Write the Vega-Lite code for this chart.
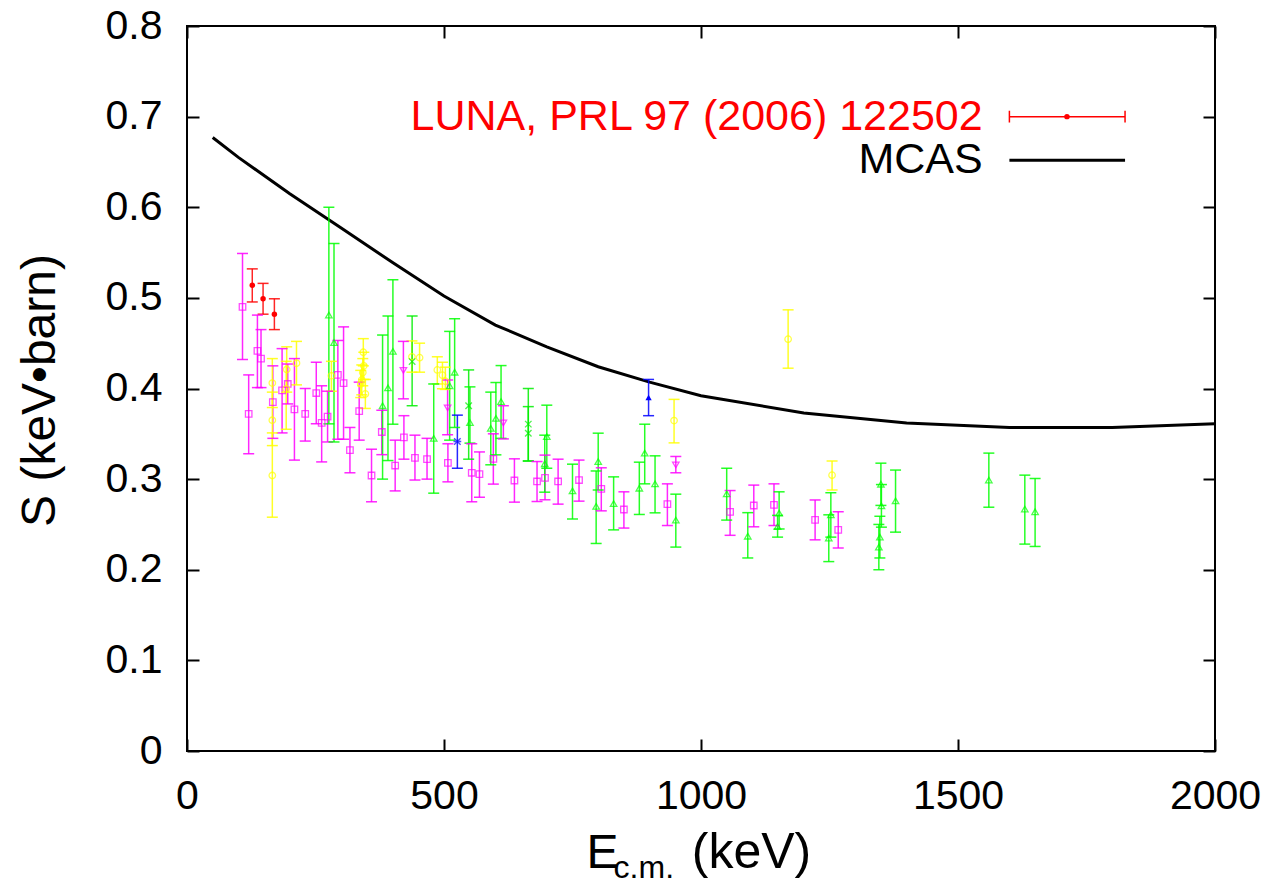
{
  "$schema": "https://vega.github.io/schema/vega-lite/v6.json",
  "width": 1028,
  "height": 725,
  "autosize": {"type": "none"},
  "padding": {"left": 187, "top": 26, "right": 52, "bottom": 137},
  "background": "white",
  "config": {
    "view": {"stroke": "black", "strokeWidth": 2},
    "font": "Liberation Sans",
    "scale": {"continuousPadding": 0},
    "axis": {
      "domain": false, "grid": false, "ticks": true, "tickSize": -12, "tickColor": "black", "tickWidth": 2,
      "labelFont": "Liberation Sans", "labelFontSize": 41, "labelColor": "black", "labelPadding": 37, "labelFlush": false,
      "titleFont": "Liberation Sans", "titleFontSize": 48, "titleFontWeight": "normal", "titleColor": "black"
    }
  },
  "datasets": {
    "mcas": [
      {"E": 50, "S": 0.677}, {"E": 100, "S": 0.655}, {"E": 200, "S": 0.615}, {"E": 300, "S": 0.577},
      {"E": 400, "S": 0.539}, {"E": 500, "S": 0.502}, {"E": 600, "S": 0.470}, {"E": 700, "S": 0.446},
      {"E": 800, "S": 0.424}, {"E": 900, "S": 0.407}, {"E": 1000, "S": 0.392}, {"E": 1200, "S": 0.373},
      {"E": 1400, "S": 0.362}, {"E": 1600, "S": 0.357}, {"E": 1800, "S": 0.357}, {"E": 2000, "S": 0.361}
    ],
    "pts": [
      {"set": "A", "E": 108, "S": 0.490, "lo": 0.432, "hi": 0.549},
      {"set": "A", "E": 120, "S": 0.372, "lo": 0.328, "hi": 0.415},
      {"set": "A", "E": 137, "S": 0.4415, "lo": 0.401, "hi": 0.481},
      {"set": "A", "E": 144, "S": 0.433, "lo": 0.401, "hi": 0.465},
      {"set": "A", "E": 167, "S": 0.385, "lo": 0.345, "hi": 0.425},
      {"set": "A", "E": 185, "S": 0.398, "lo": 0.351, "hi": 0.444},
      {"set": "A", "E": 196, "S": 0.405, "lo": 0.383, "hi": 0.427},
      {"set": "A", "E": 209, "S": 0.377, "lo": 0.321, "hi": 0.433},
      {"set": "A", "E": 230, "S": 0.372, "lo": 0.342, "hi": 0.400},
      {"set": "A", "E": 251.5, "S": 0.395, "lo": 0.361, "hi": 0.429},
      {"set": "A", "E": 262, "S": 0.362, "lo": 0.319, "hi": 0.403},
      {"set": "A", "E": 273.5, "S": 0.369, "lo": 0.341, "hi": 0.397},
      {"set": "A", "E": 293.5, "S": 0.415, "lo": 0.344, "hi": 0.453},
      {"set": "A", "E": 304.6, "S": 0.406, "lo": 0.344, "hi": 0.468},
      {"set": "A", "E": 317, "S": 0.332, "lo": 0.307, "hi": 0.357},
      {"set": "A", "E": 335, "S": 0.375, "lo": 0.343, "hi": 0.407},
      {"set": "A", "E": 359, "S": 0.304, "lo": 0.275, "hi": 0.333},
      {"set": "A", "E": 379, "S": 0.352, "lo": 0.327, "hi": 0.376},
      {"set": "A", "E": 405, "S": 0.315, "lo": 0.287, "hi": 0.343},
      {"set": "A", "E": 422, "S": 0.346, "lo": 0.322, "hi": 0.370},
      {"set": "A", "E": 443.5, "S": 0.3235, "lo": 0.299, "hi": 0.3485},
      {"set": "A", "E": 467, "S": 0.322, "lo": 0.300, "hi": 0.345},
      {"set": "A", "E": 507.6, "S": 0.318, "lo": 0.297, "hi": 0.339},
      {"set": "A", "E": 554, "S": 0.307, "lo": 0.275, "hi": 0.339},
      {"set": "A", "E": 569, "S": 0.3055, "lo": 0.280, "hi": 0.330},
      {"set": "A", "E": 596, "S": 0.3224, "lo": 0.2945, "hi": 0.350},
      {"set": "A", "E": 637, "S": 0.2985, "lo": 0.2746, "hi": 0.3224},
      {"set": "A", "E": 681, "S": 0.2974, "lo": 0.2753, "hi": 0.3194},
      {"set": "A", "E": 696.5, "S": 0.3014, "lo": 0.2772, "hi": 0.3265},
      {"set": "A", "E": 722, "S": 0.2974, "lo": 0.2724, "hi": 0.322},
      {"set": "A", "E": 762.7, "S": 0.299, "lo": 0.2757, "hi": 0.321},
      {"set": "A", "E": 806, "S": 0.2893, "lo": 0.265, "hi": 0.3125},
      {"set": "A", "E": 850, "S": 0.2665, "lo": 0.246, "hi": 0.286},
      {"set": "A", "E": 934.6, "S": 0.2724, "lo": 0.2488, "hi": 0.2948},
      {"set": "A", "E": 1056.6, "S": 0.2639, "lo": 0.238, "hi": 0.2874},
      {"set": "A", "E": 1102.7, "S": 0.2709, "lo": 0.2474, "hi": 0.2934},
      {"set": "A", "E": 1142, "S": 0.2716, "lo": 0.2488, "hi": 0.2948},
      {"set": "A", "E": 1222, "S": 0.255, "lo": 0.233, "hi": 0.277},
      {"set": "A", "E": 1267, "S": 0.244, "lo": 0.224, "hi": 0.264},
      {"set": "B", "E": 166, "S": 0.406, "lo": 0.379, "hi": 0.433},
      {"set": "B", "E": 166, "S": 0.365, "lo": 0.337, "hi": 0.396},
      {"set": "B", "E": 166, "S": 0.304, "lo": 0.258, "hi": 0.351},
      {"set": "B", "E": 194, "S": 0.421, "lo": 0.396, "hi": 0.446},
      {"set": "B", "E": 193, "S": 0.3996, "lo": 0.355, "hi": 0.43},
      {"set": "B", "E": 213, "S": 0.428, "lo": 0.404, "hi": 0.452},
      {"set": "B", "E": 281, "S": 0.414, "lo": 0.397, "hi": 0.43},
      {"set": "B", "E": 343, "S": 0.440, "lo": 0.425, "hi": 0.455},
      {"set": "B", "E": 344, "S": 0.425, "lo": 0.41, "hi": 0.44},
      {"set": "B", "E": 342, "S": 0.4176, "lo": 0.403, "hi": 0.433},
      {"set": "B", "E": 340, "S": 0.4095, "lo": 0.393, "hi": 0.426},
      {"set": "B", "E": 338, "S": 0.405, "lo": 0.39, "hi": 0.42},
      {"set": "B", "E": 347, "S": 0.394, "lo": 0.378, "hi": 0.41},
      {"set": "B", "E": 437.6, "S": 0.435, "lo": 0.418, "hi": 0.4525},
      {"set": "B", "E": 452.5, "S": 0.434, "lo": 0.418, "hi": 0.450},
      {"set": "B", "E": 487, "S": 0.4205, "lo": 0.405, "hi": 0.435},
      {"set": "B", "E": 497, "S": 0.4147, "lo": 0.3996, "hi": 0.429},
      {"set": "B", "E": 502.6, "S": 0.408, "lo": 0.399, "hi": 0.4235},
      {"set": "B", "E": 947.6, "S": 0.3646, "lo": 0.340, "hi": 0.388},
      {"set": "B", "E": 1169.5, "S": 0.4544, "lo": 0.4224, "hi": 0.4868},
      {"set": "B", "E": 1255, "S": 0.3044, "lo": 0.288, "hi": 0.320},
      {"set": "C", "E": 276, "S": 0.481, "lo": 0.361, "hi": 0.600},
      {"set": "C", "E": 286, "S": 0.4507, "lo": 0.341, "hi": 0.560},
      {"set": "C", "E": 380.5, "S": 0.381, "lo": 0.300, "hi": 0.459},
      {"set": "C", "E": 391, "S": 0.4007, "lo": 0.3205, "hi": 0.480},
      {"set": "C", "E": 400.6, "S": 0.441, "lo": 0.3606, "hi": 0.520},
      {"set": "C", "E": 480, "S": 0.345, "lo": 0.2845, "hi": 0.405},
      {"set": "C", "E": 511, "S": 0.403, "lo": 0.343, "hi": 0.463},
      {"set": "C", "E": 520.7, "S": 0.418, "lo": 0.357, "hi": 0.477},
      {"set": "C", "E": 550.5, "S": 0.3624, "lo": 0.3397, "hi": 0.4018},
      {"set": "C", "E": 591, "S": 0.356, "lo": 0.3158, "hi": 0.396},
      {"set": "C", "E": 601, "S": 0.367, "lo": 0.3268, "hi": 0.4066},
      {"set": "C", "E": 611, "S": 0.3856, "lo": 0.345, "hi": 0.4253},
      {"set": "C", "E": 696, "S": 0.317, "lo": 0.2856, "hi": 0.3485},
      {"set": "C", "E": 700, "S": 0.347, "lo": 0.312, "hi": 0.3816},
      {"set": "C", "E": 750, "S": 0.287, "lo": 0.256, "hi": 0.3165},
      {"set": "C", "E": 796, "S": 0.270, "lo": 0.229, "hi": 0.309},
      {"set": "C", "E": 800, "S": 0.3194, "lo": 0.288, "hi": 0.3507},
      {"set": "C", "E": 830, "S": 0.273, "lo": 0.244, "hi": 0.3025},
      {"set": "C", "E": 880, "S": 0.290, "lo": 0.261, "hi": 0.3187},
      {"set": "C", "E": 890.5, "S": 0.3287, "lo": 0.2948, "hi": 0.3606},
      {"set": "C", "E": 910.6, "S": 0.2948, "lo": 0.2628, "hi": 0.3257},
      {"set": "C", "E": 951, "S": 0.2548, "lo": 0.225, "hi": 0.2834},
      {"set": "C", "E": 1050, "S": 0.2838, "lo": 0.2548, "hi": 0.312},
      {"set": "C", "E": 1091, "S": 0.237, "lo": 0.213, "hi": 0.263},
      {"set": "C", "E": 1152, "S": 0.2625, "lo": 0.245, "hi": 0.286},
      {"set": "C", "E": 1149, "S": 0.2477, "lo": 0.236, "hi": 0.26},
      {"set": "C", "E": 1252.6, "S": 0.2606, "lo": 0.236, "hi": 0.285},
      {"set": "C", "E": 1248.6, "S": 0.235, "lo": 0.209, "hi": 0.2606},
      {"set": "C", "E": 1346, "S": 0.225, "lo": 0.200, "hi": 0.250},
      {"set": "C", "E": 1348, "S": 0.236, "lo": 0.213, "hi": 0.259},
      {"set": "C", "E": 1351, "S": 0.2705, "lo": 0.247, "hi": 0.294},
      {"set": "C", "E": 1350, "S": 0.2944, "lo": 0.271, "hi": 0.3176},
      {"set": "C", "E": 1378.5, "S": 0.276, "lo": 0.2415, "hi": 0.31},
      {"set": "C", "E": 1560, "S": 0.299, "lo": 0.269, "hi": 0.3287},
      {"set": "C", "E": 1630, "S": 0.267, "lo": 0.2283, "hi": 0.3044},
      {"set": "C", "E": 1650, "S": 0.264, "lo": 0.2257, "hi": 0.3007},
      {"set": "D", "E": 438, "S": 0.4297, "lo": 0.381, "hi": 0.480},
      {"set": "D", "E": 548, "S": 0.381, "lo": 0.322, "hi": 0.4205},
      {"set": "D", "E": 664, "S": 0.3607, "lo": 0.320, "hi": 0.400},
      {"set": "D", "E": 664, "S": 0.3507, "lo": 0.320, "hi": 0.380},
      {"set": "E", "E": 421, "S": 0.420, "lo": 0.3886, "hi": 0.452},
      {"set": "E", "E": 507, "S": 0.3786, "lo": 0.349, "hi": 0.4095},
      {"set": "E", "E": 615.5, "S": 0.362, "lo": 0.3444, "hi": 0.381},
      {"set": "E", "E": 951, "S": 0.3157, "lo": 0.307, "hi": 0.325},
      {"set": "F", "E": 526, "S": 0.3415, "lo": 0.312, "hi": 0.3706},
      {"set": "G", "E": 898, "S": 0.390, "lo": 0.370, "hi": 0.410},
      {"set": "LUNA", "E": 127, "S": 0.514, "lo": 0.4955, "hi": 0.532},
      {"set": "LUNA", "E": 148, "S": 0.499, "lo": 0.482, "hi": 0.516},
      {"set": "LUNA", "E": 170, "S": 0.482, "lo": 0.465, "hi": 0.499}
    ]
  },
  "layer": [
    {
      "data": {"name": "mcas"},
      "mark": {"type": "line", "color": "black", "strokeWidth": 3},
      "encoding": {
        "x": {"field": "E", "type": "quantitative", "scale": {"domain": [0, 2000], "nice": false, "padding": 0},
              "axis": {"orient": "bottom", "title": null, "values": [0, 500, 1000, 1500, 2000], "format": "d"}},
        "y": {"field": "S", "type": "quantitative", "scale": {"domain": [0, 0.8], "nice": false, "padding": 0},
              "axis": {"orient": "left", "title": "S (keV•barn)", "values": [0, 0.1, 0.2, 0.3, 0.4, 0.5, 0.6, 0.7, 0.8], "format": ".1~f",
                       "titleX": -147, "titleY": 364, "titleAngle": -90, "titleAlign": "center", "titleBaseline": "middle"}}
      }
    },
    {
      "data": {"name": "pts"},
      "mark": {"type": "rule", "strokeWidth": 1.5, "opacity": 0.85},
      "encoding": {
        "x": {"field": "E", "type": "quantitative",
              "axis": {"orient": "top", "title": null, "labels": false, "values": [0, 500, 1000, 1500, 2000]}},
        "y": {"field": "lo", "type": "quantitative",
              "axis": {"orient": "right", "title": null, "labels": false, "values": [0, 0.1, 0.2, 0.3, 0.4, 0.5, 0.6, 0.7, 0.8]}},
        "y2": {"field": "hi"},
        "color": {"field": "set", "type": "nominal", "legend": null,
                  "scale": {"domain": ["A", "B", "C", "D", "E", "F", "G", "LUNA"],
                            "range": ["#ff00ff", "#ffff00", "#00ff00", "#00ee00", "#ff00ff", "#0000ff", "#0000ff", "#ff0000"]}}
      }
    },
    {
      "data": {"name": "pts"},
      "mark": {"type": "tick", "orient": "horizontal", "size": 11, "thickness": 1.5, "opacity": 0.85},
      "encoding": {
        "x": {"field": "E", "type": "quantitative", "axis": null},
        "y": {"field": "lo", "type": "quantitative", "axis": null},
        "color": {"field": "set", "type": "nominal", "legend": null}
      }
    },
    {
      "data": {"name": "pts"},
      "mark": {"type": "tick", "orient": "horizontal", "size": 11, "thickness": 1.5, "opacity": 0.85},
      "encoding": {
        "x": {"field": "E", "type": "quantitative", "axis": null},
        "y": {"field": "hi", "type": "quantitative", "axis": null},
        "color": {"field": "set", "type": "nominal", "legend": null}
      }
    },
    {
      "data": {"name": "pts"},
      "transform": [{"filter": "datum.set !== 'LUNA' && datum.set !== 'G'"}],
      "mark": {"type": "point", "filled": false, "strokeWidth": 1.3, "size": 42},
      "encoding": {
        "x": {"field": "E", "type": "quantitative", "axis": null},
        "y": {"field": "S", "type": "quantitative", "axis": null},
        "color": {"field": "set", "type": "nominal", "legend": null},
        "shape": {"field": "set", "type": "nominal", "legend": null,
                  "scale": {"domain": ["A", "B", "C", "D", "E", "F"],
                            "range": ["square", "circle", "triangle-up", "M-1,-1L1,1M-1,1L1,-1", "triangle-down", "M-1,-1L1,1M-1,1L1,-1M-1.2,0H1.2"]}}
      }
    },
    {
      "data": {"name": "pts"},
      "transform": [{"filter": "datum.set === 'G'"}],
      "mark": {"type": "point", "filled": true, "opacity": 1, "size": 40, "shape": "triangle-up", "color": "#0000ff"},
      "encoding": {
        "x": {"field": "E", "type": "quantitative", "axis": null},
        "y": {"field": "S", "type": "quantitative", "axis": null}
      }
    },
    {
      "data": {"name": "pts"},
      "transform": [{"filter": "datum.set === 'LUNA'"}],
      "mark": {"type": "point", "filled": true, "opacity": 1, "size": 30, "shape": "circle", "color": "#ff0000"},
      "encoding": {
        "x": {"field": "E", "type": "quantitative", "axis": null},
        "y": {"field": "S", "type": "quantitative", "axis": null}
      }
    },
    {
      "data": {"values": [{}]},
      "mark": {"type": "text", "text": "LUNA, PRL 97 (2006) 122502", "align": "right", "baseline": "middle", "fontSize": 43, "color": "#ff0000", "font": "Liberation Sans"},
      "encoding": {"x": {"datum": 1548, "axis": null}, "y": {"datum": 0.70, "axis": null}}
    },
    {
      "data": {"values": [{}]},
      "mark": {"type": "rule", "color": "#ff0000", "strokeWidth": 1.5},
      "encoding": {"x": {"datum": 1600, "axis": null}, "x2": {"datum": 1825}, "y": {"datum": 0.70, "axis": null}}
    },
    {
      "data": {"values": [{}]},
      "mark": {"type": "rule", "color": "#ff0000", "strokeWidth": 1.5},
      "encoding": {"x": {"datum": 1600, "axis": null}, "y": {"datum": 0.6935, "axis": null}, "y2": {"datum": 0.7065}}
    },
    {
      "data": {"values": [{}]},
      "mark": {"type": "rule", "color": "#ff0000", "strokeWidth": 1.5},
      "encoding": {"x": {"datum": 1825, "axis": null}, "y": {"datum": 0.6935, "axis": null}, "y2": {"datum": 0.7065}}
    },
    {
      "data": {"values": [{}]},
      "mark": {"type": "point", "filled": true, "color": "#ff0000", "shape": "circle", "size": 30, "opacity": 1},
      "encoding": {"x": {"datum": 1712, "axis": null}, "y": {"datum": 0.70, "axis": null}}
    },
    {
      "data": {"values": [{}]},
      "mark": {"type": "text", "text": "MCAS", "align": "right", "baseline": "middle", "fontSize": 43, "color": "black", "font": "Liberation Sans"},
      "encoding": {"x": {"datum": 1548, "axis": null}, "y": {"datum": 0.652, "axis": null}}
    },
    {
      "data": {"values": [{}]},
      "mark": {"type": "rule", "color": "black", "strokeWidth": 3},
      "encoding": {"x": {"datum": 1600, "axis": null}, "x2": {"datum": 1825}, "y": {"datum": 0.652, "axis": null}}
    },
    {
      "data": {"values": [{}]},
      "mark": {"type": "text", "text": "E", "align": "left", "baseline": "alphabetic", "fontSize": 48, "color": "black", "font": "Liberation Sans"},
      "encoding": {"x": {"datum": 777, "axis": null}, "y": {"datum": -0.1287, "axis": null}}
    },
    {
      "data": {"values": [{}]},
      "mark": {"type": "text", "text": "c.m.", "align": "left", "baseline": "alphabetic", "fontSize": 32, "color": "black", "font": "Liberation Sans"},
      "encoding": {"x": {"datum": 830, "axis": null}, "y": {"datum": -0.1398, "axis": null}}
    },
    {
      "data": {"values": [{}]},
      "mark": {"type": "text", "text": "(keV)", "align": "left", "baseline": "alphabetic", "fontSize": 50, "color": "black", "font": "Liberation Sans"},
      "encoding": {"x": {"datum": 982, "axis": null}, "y": {"datum": -0.1287, "axis": null}}
    }
  ],
  "resolve": {"axis": {"x": "independent", "y": "independent"}}
}
